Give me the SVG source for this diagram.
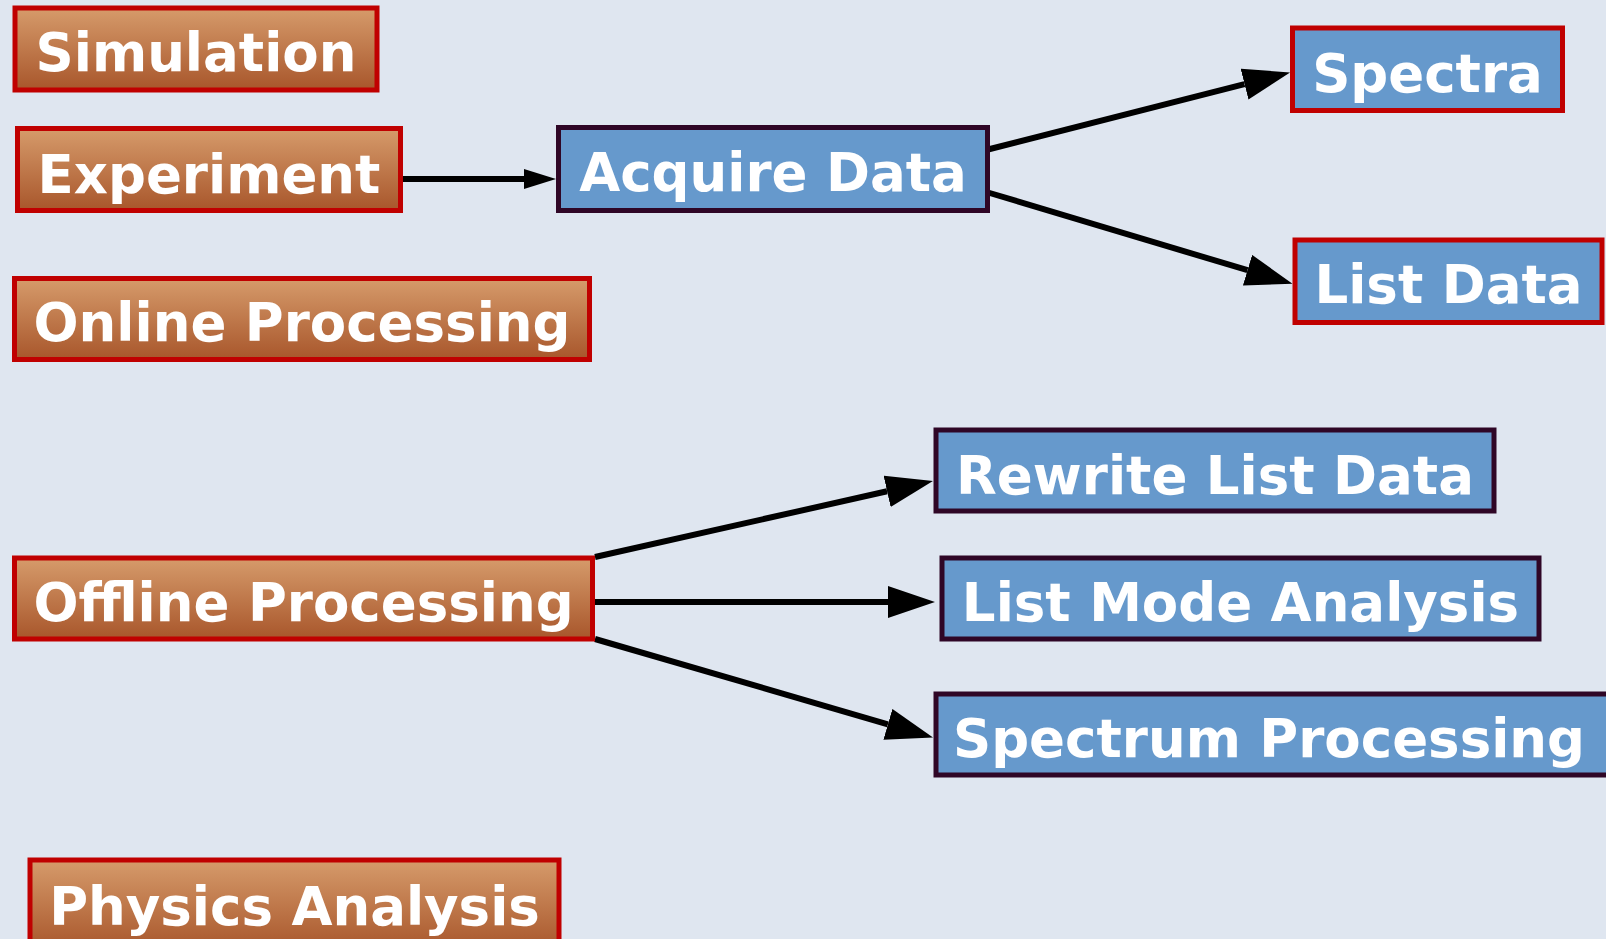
<svg xmlns="http://www.w3.org/2000/svg" width="1606" height="939" viewBox="0 0 1606 939">
<style>
.bg{fill:#dfe6f0}
.orange{fill:url(#og);stroke:#c00000;stroke-width:5}
.blue{fill:#6699cc;stroke:#2f0626;stroke-width:5}
.bluer{fill:#6699cc;stroke:#c00000;stroke-width:5}
.lbl{font-family:"DejaVu Sans","Liberation Sans",sans-serif;font-weight:bold;font-size:53px;fill:#ffffff;text-anchor:middle}
.lbls{text-anchor:start}
.conn{stroke:#000;stroke-width:6;fill:none}
</style>
<defs>
<linearGradient id="og" x1="0" y1="0" x2="0" y2="1">
<stop offset="0" stop-color="#d69b6b"/>
<stop offset="1" stop-color="#a8562b"/>
</linearGradient>
<marker id="ah" markerUnits="userSpaceOnUse" viewBox="0 -16 47 32" markerWidth="47" markerHeight="32" refX="0" refY="0" orient="auto">
<path d="M0,-16 L47,0 L0,16 z" fill="#000"/>
</marker>
<marker id="ahs" markerUnits="userSpaceOnUse" viewBox="0 -10 32 20" markerWidth="32" markerHeight="20" refX="0" refY="0" orient="auto">
<path d="M0,-10 L32,0 L0,10 z" fill="#000"/>
</marker>
</defs>
<rect class="bg" x="0" y="0" width="1606" height="939"/>
<g id="connectors">
<line class="conn" x1="401" y1="179" x2="524" y2="179" marker-end="url(#ahs)"/>
<line class="conn" x1="988" y1="149.5" x2="1244.5" y2="84.1" marker-end="url(#ah)"/>
<line class="conn" x1="988" y1="192.5" x2="1247.5" y2="270.2" marker-end="url(#ah)"/>
<line class="conn" x1="595" y1="557" x2="887.1" y2="491.3" marker-end="url(#ah)"/>
<line class="conn" x1="595" y1="602" x2="888" y2="602" marker-end="url(#ah)"/>
<line class="conn" x1="595" y1="639" x2="887.9" y2="724.3" marker-end="url(#ah)"/>
</g>
<g id="simulation">
<rect class="orange" x="15" y="8" width="362" height="82"/>
<text class="lbl" x="196" y="71">Simulation</text>
</g>
<g id="experiment">
<rect class="orange" x="17.5" y="128.5" width="383" height="82"/>
<text class="lbl" x="209" y="192.5">Experiment</text>
</g>
<g id="online-processing">
<rect class="orange" x="14.5" y="278.5" width="575" height="81"/>
<text class="lbl" x="302" y="341">Online Processing</text>
</g>
<g id="offline-processing">
<rect class="orange" x="14.5" y="558" width="578" height="81"/>
<text class="lbl" x="303.5" y="620.5">Offline Processing</text>
</g>
<g id="physics-analysis">
<rect class="orange" x="30" y="860" width="529" height="90"/>
<text class="lbl" x="294.5" y="925">Physics Analysis</text>
</g>
<g id="acquire-data">
<rect class="blue" x="558.5" y="127.5" width="429" height="83"/>
<text class="lbl" x="773" y="191">Acquire Data</text>
</g>
<g id="spectra">
<rect class="bluer" x="1292.5" y="28" width="270" height="82.5"/>
<text class="lbl" x="1427.5" y="91.5">Spectra</text>
</g>
<g id="list-data">
<rect class="bluer" x="1295" y="240" width="307" height="82.5"/>
<text class="lbl" x="1448.5" y="303">List Data</text>
</g>
<g id="rewrite-list-data">
<rect class="blue" x="936" y="430" width="558" height="81"/>
<text class="lbl" x="1215" y="493.5">Rewrite List Data</text>
</g>
<g id="list-mode-analysis">
<rect class="blue" x="942" y="558" width="597" height="81"/>
<text class="lbl" x="1240.5" y="620.5">List Mode Analysis</text>
</g>
<g id="spectrum-processing">
<rect class="blue" x="936" y="694" width="690" height="81"/>
<text class="lbl lbls" x="953" y="757">Spectrum Processing</text>
</g>
</svg>
